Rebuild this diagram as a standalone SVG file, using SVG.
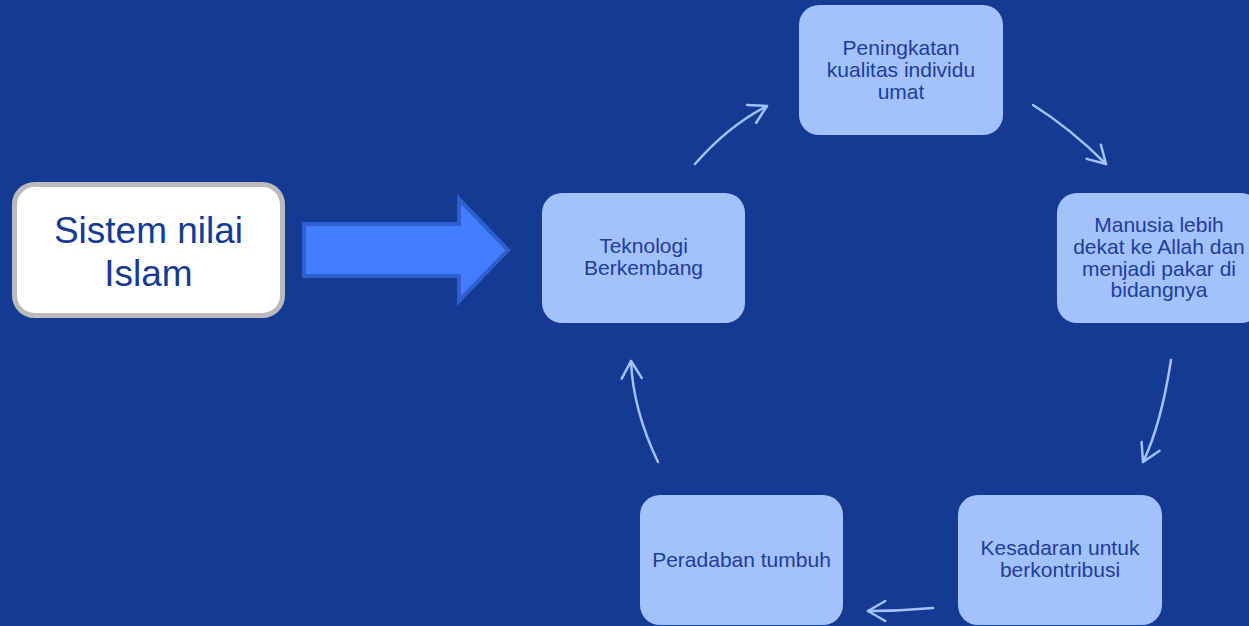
<svg xmlns="http://www.w3.org/2000/svg" width="1249" height="626" viewBox="0 0 1249 626">
<style>
.node rect{fill:#A3C1FC;}
.node text{font-family:"Liberation Sans",Arial,sans-serif;font-size:21px;fill:#1C3E9A;text-anchor:middle;}
.conn path{fill:none;stroke:#A3C1FC;stroke-width:2.5;stroke-linecap:round;}
</style>
<defs>
<marker id="ah" markerUnits="userSpaceOnUse" viewBox="-20 -12 22 24" refX="0" refY="0" markerWidth="22" markerHeight="24" orient="auto" overflow="visible">
<path d="M-17.3,-10 L0,0 L-17.3,10" fill="none" stroke="#A3C1FC" stroke-width="2.5" stroke-linecap="round" stroke-linejoin="round"/>
</marker>
</defs>
<rect width="1249" height="626" fill="#153A94"/>
<g id="sistem">
<rect x="14.5" y="184.5" width="268" height="131" rx="20" fill="#FFFFFF" stroke="#BBBBBB" stroke-width="5"/>
<text font-family="'Liberation Sans',Arial,sans-serif" font-size="37" fill="#153A94" text-anchor="middle"><tspan x="148.5" y="242.5">Sistem nilai</tspan><tspan x="148.5" y="286">Islam</tspan></text>
</g>
<g id="big-arrow">
<polygon points="304,224 459,224 459,199 508,250 459,301 459,276 304,276" fill="#427CFF" stroke="#2F5ED0" stroke-width="4"/>
</g>
<g id="teknologi" class="node">
<rect x="542" y="193" width="203" height="130" rx="20"/>
<text><tspan x="643.5" y="253">Teknologi</tspan><tspan x="643.5" y="274.5">Berkembang</tspan></text>
</g>
<g id="peningkatan" class="node">
<rect x="799" y="5" width="204" height="130" rx="20"/>
<text><tspan x="901" y="55">Peningkatan</tspan><tspan x="901" y="76.7">kualitas individu</tspan><tspan x="901" y="98.5">umat</tspan></text>
</g>
<g id="manusia" class="node">
<rect x="1057" y="193" width="204" height="130" rx="20"/>
<text><tspan x="1159" y="232">Manusia lebih</tspan><tspan x="1159" y="254">dekat ke Allah dan</tspan><tspan x="1159" y="275.5">menjadi pakar di</tspan><tspan x="1159" y="297">bidangnya</tspan></text>
</g>
<g id="kesadaran" class="node">
<rect x="958" y="495" width="204" height="130" rx="20"/>
<text><tspan x="1060" y="555">Kesadaran untuk</tspan><tspan x="1060" y="576.7">berkontribusi</tspan></text>
</g>
<g id="peradaban" class="node">
<rect x="640" y="495" width="203" height="130" rx="20"/>
<text><tspan x="741.5" y="567.3">Peradaban tumbuh</tspan></text>
</g>
<g id="connectors" class="conn">
<path d="M695,164 Q728,126 767,106" marker-end="url(#ah)"/>
<path d="M1033,105 Q1070,128 1106,164" marker-end="url(#ah)"/>
<path d="M1171,360 Q1161,425 1143,462" marker-end="url(#ah)"/>
<path d="M933,608 Q900,611 868,611" marker-end="url(#ah)"/>
<path d="M658,462 Q633,410 631,361" marker-end="url(#ah)"/>
</g>
</svg>
